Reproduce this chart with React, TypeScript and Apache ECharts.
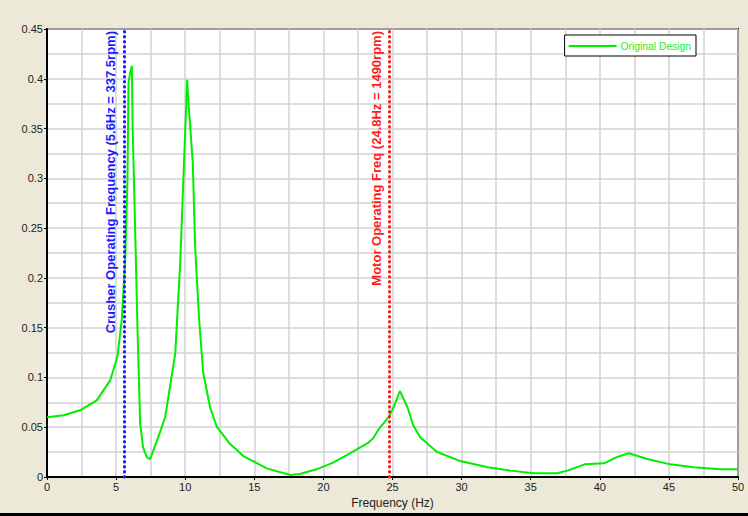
import React, { useEffect, useRef } from "react";
import * as echarts from "echarts";

const freqHz = [0, 1.2, 2.4, 3.6, 4.57, 5.1, 5.41, 5.65, 5.82, 5.9, 6.0, 6.14, 6.2, 6.38, 6.55, 6.74, 6.95, 7.22, 7.46, 8.0, 8.55, 9.28, 9.64, 9.93, 10.07, 10.14, 10.22, 10.29, 10.55, 10.72, 11.0, 11.3, 11.8, 12.3, 13.2, 14.2, 15.9, 17.6, 18.3, 19.5, 20.7, 21.96, 22.7, 23.2, 23.6, 24.1, 24.4, 24.73, 25.1, 25.53, 26.07, 26.5, 27.0, 28.2, 29.9, 31.9, 33.55, 35.2, 36.9, 37.66, 38.9, 40.3, 41.3, 42.1, 43.5, 45.1, 46.8, 48.7, 50];
const amplitude = [0.06, 0.062, 0.067, 0.077, 0.097, 0.121, 0.158, 0.215, 0.298, 0.396, 0.405, 0.413, 0.349, 0.248, 0.148, 0.054, 0.03, 0.02, 0.018, 0.038, 0.06, 0.124, 0.215, 0.322, 0.372, 0.399, 0.38, 0.366, 0.315, 0.231, 0.16, 0.105, 0.07, 0.05, 0.034, 0.021, 0.0087, 0.002, 0.003, 0.0077, 0.0144, 0.024, 0.03, 0.034, 0.039, 0.05, 0.0546, 0.0606, 0.0706, 0.0864, 0.0706, 0.052, 0.04, 0.0254, 0.016, 0.0097, 0.0064, 0.0037, 0.0037, 0.0064, 0.0127, 0.0137, 0.0204, 0.0238, 0.0178, 0.0127, 0.0097, 0.0077, 0.0077];

const seriesName = "Original Design";
const crusherFreq = 5.6;
const crusherLabel = "Crusher Operating Frequency (5.6Hz = 337.5rpm)";
const motorFreq = 24.8;
const motorLabel = "Motor Operating Freq (24.8Hz = 1490rpm)";
const xAxisTitle = "Frequency (Hz)";

export default function App() {
  const ref = useRef<HTMLDivElement>(null);
  useEffect(() => {
    document.body.style.margin = "0";
    document.body.style.background = "#ECE9D8";
    const chart = echarts.init(ref.current!, null, { renderer: "svg" });
    const font = "'Liberation Sans', Arial, sans-serif";
    chart.setOption({
      animation: false,
      backgroundColor: "#ECE9D8",
      textStyle: { fontFamily: font },
      grid: {
        left: 47,
        top: 29,
        right: 10,
        bottom: 39,
        show: true,
        backgroundColor: "#ffffff",
        borderColor: "#000000",
        borderWidth: 2,
      },
      legend: {
        right: 52,
        top: 35,
        orient: "vertical",
        backgroundColor: "#ffffff",
        borderColor: "#000000",
        borderWidth: 1,
        borderRadius: 0,
        padding: [6, 5, 5, 4],
        itemWidth: 48,
        itemHeight: 10,
        itemGap: 2,
        icon: "path://M0,4 L48,4 L48,6 L0,6 Z",
        textStyle: { color: "#22ee22", fontSize: 10.3, fontFamily: font, padding: [0, 0, 0, -1] },
        data: [{ name: seriesName, itemStyle: { color: "#00ee00" } }],
      },
      xAxis: {
        type: "value",
        min: 0,
        max: 50,
        interval: 5,
        name: xAxisTitle,
        nameLocation: "middle",
        nameGap: 17,
        nameTextStyle: { color: "#222", fontSize: 12, fontFamily: font },
        axisLine: { show: true, onZero: false, lineStyle: { color: "#000", width: 2 } },
        axisTick: { show: true, length: 3, inside: false, lineStyle: { color: "#000" } },
        axisLabel: { color: "#222", fontSize: 11, margin: 4, fontFamily: font },
        splitLine: { show: true, lineStyle: { color: "#d2d2d2", width: 1.5 } },
        minorTick: { show: false, splitNumber: 2 },
        minorSplitLine: { show: true, lineStyle: { color: "#d2d2d2", width: 1.5 } },
      },
      yAxis: {
        type: "value",
        min: 0,
        max: 0.45,
        interval: 0.05,
        axisLine: { show: true, onZero: false, lineStyle: { color: "#000", width: 2 } },
        axisTick: { show: true, length: 3, lineStyle: { color: "#000" } },
        axisLabel: {
          color: "#222",
          fontSize: 11,
          margin: 4,
          fontFamily: font,
          formatter: (v: number) => String(Math.round(v * 1000) / 1000),
        },
        splitLine: { show: true, lineStyle: { color: "#d2d2d2", width: 1.5 } },
        minorTick: { show: false, splitNumber: 2 },
        minorSplitLine: { show: true, lineStyle: { color: "#d2d2d2", width: 1.5 } },
      },
      series: [
        {
          name: seriesName,
          type: "line",
          data: freqHz.map((f, i) => [f, amplitude[i]]),
          showSymbol: false,
          lineStyle: { color: "#00ee00", width: 2 },
          itemStyle: { color: "#00ee00" },
          z: 3,
          markLine: {
            silent: true,
            symbol: ["none", "none"],
            data: [
              {
                xAxis: crusherFreq,
                lineStyle: { color: "#1a1aff", width: 3, type: [0.5, 4.5], cap: "round" },
                label: {
                  show: true,
                  formatter: crusherLabel,
                  position: "insideEndTop",
                  color: "#1a1aff",
                  fontWeight: "bold",
                  fontSize: 13,
                  fontFamily: font,
                  distance: [2, 7],
                },
              },
              {
                xAxis: motorFreq,
                lineStyle: { color: "#ff1a1a", width: 3, type: [0.5, 4.5], cap: "round" },
                label: {
                  show: true,
                  formatter: motorLabel,
                  position: "insideEndTop",
                  color: "#ff1a1a",
                  fontWeight: "bold",
                  fontSize: 13,
                  fontFamily: font,
                  distance: [2, 7],
                },
              },
            ],
          },
        },
      ],
      graphic: [
        {
          type: "rect",
          left: 0,
          bottom: 0,
          shape: { width: 748, height: 3 },
          style: { fill: "#000" },
        },
      ],
    });
    return () => chart.dispose();
  }, []);
  return <div ref={ref} style={{ width: 748, height: 516 }} />;
}
